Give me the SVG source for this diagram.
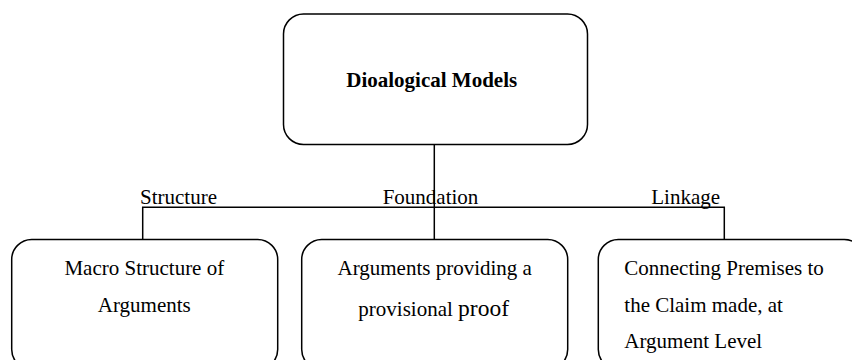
<svg xmlns="http://www.w3.org/2000/svg" width="852" height="360" viewBox="0 0 852 360">
<style>
.box{fill:#fff;stroke:#000;stroke-width:1.5}
.con{fill:none;stroke:#000;stroke-width:1.5}
text{font-family:"Liberation Serif","Times New Roman",serif;font-size:21px;fill:#000}
.c{text-anchor:middle}
</style>
<rect width="852" height="360" fill="#fff"/>
<g id="connectors">
<path class="con" d="M434.3 144.5V240"/>
<path class="con" d="M142.7 239V207.3H724.3V239"/>
</g>
<g id="labels">
<text x="140" y="204">Structure</text>
<text class="c" x="430.5" y="204">Foundation</text>
<text class="c" x="685.7" y="204">Linkage</text>
</g>
<g id="root">
<rect class="box" x="283.5" y="14" width="304" height="130.5" rx="20"/>
<text class="c" x="431.7" y="87.3" font-weight="bold">Dioalogical Models</text>
</g>
<g id="structure">
<rect class="box" x="11.7" y="239.5" width="266" height="130" rx="20"/>
<text class="c" x="144.3" y="275">Macro Structure of</text>
<text class="c" x="144.3" y="311.7">Arguments</text>
</g>
<g id="foundation">
<rect class="box" x="301.7" y="239.5" width="266" height="130" rx="20"/>
<text class="c" x="434.7" y="275">Arguments providing a</text>
<text class="c" x="433.7" y="315.7">provisional <tspan font-size="23.5">proof</tspan></text>
</g>
<g id="linkage">
<rect class="box" x="598.3" y="239.5" width="266" height="130" rx="20"/>
<text x="624.3" y="275">Connecting Premises to</text>
<text x="624.3" y="311.7">the Claim made, at</text>
<text x="624.3" y="348.3">Argument Level</text>
</g>
</svg>
